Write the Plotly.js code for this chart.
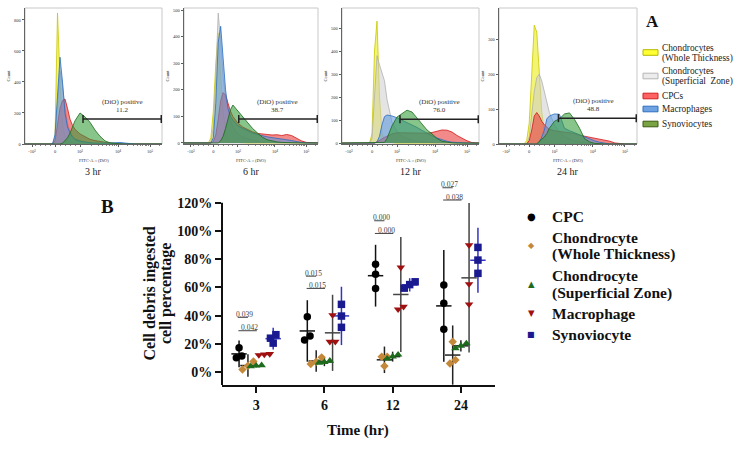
<!DOCTYPE html>
<html><head><meta charset="utf-8">
<script src="https://cdn.plot.ly/plotly-3.0.1.min.js"></script>
<style>html,body{margin:0;padding:0;background:#fff}#chart{width:755px;height:459px}</style>
</head><body><div id="chart"></div>
<script>
// ================= DATA =================
// ---- Panel A: flow cytometry histograms (FITC-A :: DiO) ----
// bin positions on the biexponential display scale (0 = 0, 1 = 10^3, 2.52 = 10^4, 3.8 = 10^5)
const fitcBins = [-1.2,-0.3,-0.2,-0.1,0,0.1,0.2,0.3,0.4,0.5,0.6,0.7,0.8,1.0,1.2,1.4,1.6,1.8,2.0,2.2,2.4,2.6,2.8,3.0,3.2,3.4,3.6,3.8,4.0,4.28];
const fitcTickVals = [-0.92, 0, 1, 2.52, 3.8];
const fitcTickText = ['-10³', '0', '10³', '10⁴', '10⁵'];
const panelTitles = ['3 hr', '6 hr', '12 hr', '24 hr'];
const histNames = ['Chondrocytes<br>(Whole Thickness)', 'Chondrocytes<br>(Superficial  Zone)', 'CPCs', 'Macrophages', 'Synoviocytes'];
const gatePercent = [11.2, 38.7, 76.0, 48.8];
const countTickStep = [200, 100, 100, 100];

// counts per bin, 3 hr
const h3_WT  = [0,0,0,0,40,845,420,120,50,20,10,5,3,1,0,0,0,0,0,0,0,0,0,0,0,0,0,0,0,0];
const h3_SZ  = [0,0,0,0,40,250,470,380,230,130,80,50,35,20,12,8,5,3,2,0,0,0,0,0,0,0,0,0,0,0];
const h3_CPC = [0,0,0,0,20,120,230,280,290,230,160,120,95,65,45,30,22,15,10,6,3,1,0,0,0,0,0,0,0,0];
const h3_Mac = [0,0,0,0,60,300,560,400,200,110,70,45,30,18,12,8,6,5,5,6,8,10,6,2,0,0,0,0,0,0];
const h3_Syn = [0,0,0,0,0,0,0,5,20,40,70,110,150,200,175,140,90,50,20,8,3,1,0,0,0,0,0,0,0,0];
// 6 hr
const h6_WT  = [0,0,0,20,120,300,415,250,120,50,20,10,5,2,0,0,0,0,0,0,0,0,0,0,0,0,0,0,0,0];
const h6_SZ  = [0,0,0,5,60,250,490,380,250,170,120,85,60,35,22,15,10,7,5,3,2,0,0,0,0,0,0,0,0,0];
const h6_CPC = [0,0,0,0,5,30,90,160,190,180,150,120,100,75,60,50,42,36,33,32,30,31,28,32,28,18,8,2,0,0];
const h6_Mac = [0,0,0,0,20,150,380,440,320,200,130,100,85,65,55,45,38,32,27,23,20,18,15,12,9,5,2,0,0,0];
const h6_Syn = [0,0,0,0,0,0,0,8,25,55,90,125,143,120,100,78,55,38,22,12,7,4,2,1,0,0,0,0,0,0];
// 12 hr
const h12_WT  = [0,0,0,0,40,400,530,200,40,15,8,4,2,0,0,0,0,0,0,0,0,0,0,0,0,0,0,0,0,0];
const h12_SZ  = [0,0,0,0,20,200,380,340,300,270,190,140,90,50,30,20,12,8,5,3,2,0,0,0,0,0,0,0,0,0];
const h12_CPC = [0,0,0,0,0,0,5,12,20,25,30,35,40,45,45,45,44,42,42,43,46,52,57,56,48,33,20,10,2,0];
const h12_Mac = [0,0,0,0,0,0,5,30,80,115,122,120,118,110,100,90,80,68,55,42,32,22,14,8,4,2,0,0,0,0];
const h12_Syn = [0,0,0,0,0,0,0,0,0,3,20,50,75,113,130,143,135,110,85,57,40,20,8,3,1,0,0,0,0,0];
// 24 hr
const h24_WT  = [0,0,0,10,60,200,340,320,190,90,30,10,4,1,0,0,0,0,0,0,0,0,0,0,0,0,0,0,0,0];
const h24_SZ  = [0,0,0,0,20,80,150,190,200,180,150,120,90,55,35,22,14,9,6,4,2,1,0,0,0,0,0,0,0,0];
const h24_CPC = [0,0,0,0,10,40,80,90,80,65,55,48,42,38,36,34,32,30,25,22,20,18,15,12,8,3,1,0,0,0];
const h24_Mac = [0,0,0,0,0,0,0,0,5,20,40,72,80,86,85,45,38,32,26,20,14,9,5,2,0,0,0,0,0,0];
const h24_Syn = [0,0,0,0,0,0,0,0,8,14,20,30,45,65,72,86,89,70,45,15,6,2,0,0,0,0,0,0,0,0];

// ---- Panel B: cell debris ingested (%) ----
const timeLabels = ['3', '6', '12', '24'];
const groupNames = ['CPC', 'Chondrocyte<br>(Whole Thickness)', 'Chondrocyte<br>(Superficial Zone)', 'Macrophage', 'Synoviocyte'];
const cpcPct = [[10.1,17.2,11.3],[22.7,39.2,25.5],[76.4,69.3,59.3],[61.7,48.7,30.3]];
const cwtPct = [[7.5,4.5,1.8],[5.7,10.4,7.3],[4.2,10.9,10.9],[21.5,6.1,8.5]];
const cszPct = [[4.5,4.0,4.8],[6.5,8.0,7.0],[12.3,11.0,9.5],[20.3,18.6,16.8]];
const macPct = [[12.5,12.0,12.8],[40.4,21.5,21.5],[74.2,44.5,46.3],[90.0,62.4,48.0]];
const synPct = [[20.5,26.5,24.0],[48.0,39.7,31.7],[64.0,62.0,59.5],[88.4,79.4,70.0]];
const cpcErr = [9.5, 21.8, 21.9, 39.6];
const cwtErr = [8.0, 7.6, 9.4, 21.0];
const cszErr = [1.2, 3.0, 3.5, 4.0];
const macErr = [1.0, 27.0, 40.8, 53.0];
const synErr = [7.7, 20.7, 4.7, 23.0];
const pVsWT = ['0.039', '0.015', '0.000', '0.027'];
const pVsSZ = ['0.042', '0.015', '0.000', '0.038'];

// ================= LAYOUT HELPERS =================
const W = 755, H = 459;
const px = v => v / W;
const py = v => 1 - v / H;

const histSets = [
  [h3_WT, h3_SZ, h3_CPC, h3_Mac, h3_Syn],
  [h6_WT, h6_SZ, h6_CPC, h6_Mac, h6_Syn],
  [h12_WT, h12_SZ, h12_CPC, h12_Mac, h12_Syn],
  [h24_WT, h24_SZ, h24_CPC, h24_Mac, h24_Syn]
];
const histFill = ['rgba(238,238,30,0.62)','rgba(205,205,205,0.55)','rgba(235,60,60,0.6)','rgba(90,150,220,0.58)','rgba(50,155,55,0.58)'];
const histLine = ['#c8c800','#b0b0b0','#d01818','#2a6cc0','#1a6a1a'];
const swFill = ['#ffff33','#ececec','#ff6262','#6ea2e2','#7aa443'];
const swLine = ['#b8b800','#b5b5b5','#d02020','#2f6fc0','#3a5a10'];

const panelX = [[25,162],[184,318],[342,479],[499,637]];
const panelY = [8,144];
const yRanges = [[0,877],[-4,509],[-4,587],[0,389]];
const fitcRange = [-1.2, 4.28];
const gateStart = [1.12, 1.04, 1.12, 1.16];
const gateLevel = [161, 90, 104, 74];
const gateTextX = [2.68, 2.64, 2.68, 2.56];

const minorVals = [];
for (let v = -0.8; v < 0.95; v += 0.2) if (Math.abs(v) > 0.05) minorVals.push(+v.toFixed(2));
for (let k = 2; k <= 9; k++) { minorVals.push(1 + 1.52 * Math.log10(k)); minorVals.push(2.52 + 1.28 * Math.log10(k)); }
minorVals.push(3.8 + 1.28 * Math.log10(2));

const serif = 'Liberation Serif, Times New Roman, serif';
const traces = [];
const layout = {
  width: W, height: H, margin: {l:0, r:0, t:0, b:0},
  paper_bgcolor: '#fff', plot_bgcolor: 'rgba(0,0,0,0)',
  font: {family: serif, color: '#111'},
  shapes: [], annotations: [],
  showlegend: false
};
function note(o) { // annotation with explicit anchors
  layout.annotations.push(Object.assign({showarrow: false, xanchor: 'center', yanchor: 'middle'}, o));
}

// ---- Panel A subplots ----
for (let p = 0; p < 4; p++) {
  const n = p + 1;
  const xa = 'xaxis' + (n === 1 ? '' : n), ya = 'yaxis' + (n === 1 ? '' : n);
  const xr = 'x' + (n === 1 ? '' : n), yr = 'y' + (n === 1 ? '' : n);
  histSets[p].forEach((vals, s) => {
    traces.push({type: 'scatter', mode: 'lines', x: fitcBins, y: vals, xaxis: xr, yaxis: yr,
      fill: 'tozeroy', fillcolor: histFill[s], line: {color: histLine[s], width: 0.8},
      showlegend: false, hoverinfo: 'skip'});
  });
  layout[xa] = {domain: [px(panelX[p][0]), px(panelX[p][1])], anchor: yr, range: fitcRange,
    tickmode: 'array', tickvals: fitcTickVals, ticktext: fitcTickText,
    ticks: 'outside', ticklen: 2.5, tickwidth: 0.8, tickcolor: '#333',
    tickfont: {size: 4.5, family: serif, color: '#333'},
    minor: {tickmode: 'array', tickvals: minorVals, ticks: 'outside', ticklen: 1.5, tickwidth: 0.6, tickcolor: '#333'},
    showline: true, linecolor: '#444', linewidth: 0.8, zeroline: false, showgrid: false, fixedrange: true};
  layout[ya] = {domain: [py(panelY[1]), py(panelY[0])], anchor: xr, range: yRanges[p],
    tickmode: 'linear', tick0: 0, dtick: countTickStep[p],
    ticks: 'outside', ticklen: 2.5, tickwidth: 0.8, tickcolor: '#333',
    tickfont: {size: 4.5, family: serif, color: '#333'},
    title: {text: 'Count', font: {size: 4.5, family: serif, color: '#333'}, standoff: 3},
    showline: true, linecolor: '#444', linewidth: 0.8, zeroline: false, showgrid: false, fixedrange: true};
  layout.shapes.push({type: 'rect', xref: xr + ' domain', yref: yr + ' domain', x0: 0, x1: 1, y0: 0, y1: 1,
    line: {color: '#c8c8c8', width: 1}, layer: 'below'});
  layout.shapes.push({type: 'line', xref: xr, yref: yr, x0: gateStart[p], x1: 4.25, y0: gateLevel[p], y1: gateLevel[p],
    line: {color: '#222', width: 1.5}});
  [gateStart[p], 4.25].forEach(gx => layout.shapes.push({type: 'line', xref: xr, yref: yr, ysizemode: 'pixel',
    yanchor: gateLevel[p], x0: gx, x1: gx, y0: -4, y1: 4, line: {color: '#222', width: 1.5}}));
  note({xref: xr, yref: yr, x: gateTextX[p], y: gateLevel[p], yshift: 17,
    text: '(DiO) positive', font: {size: 7, family: serif, color: '#333'}});
  note({xref: xr, yref: yr, x: gateTextX[p], y: gateLevel[p], yshift: 9.5,
    text: gatePercent[p].toFixed(1), font: {size: 7, family: serif, color: '#333'}});
  note({xref: xr + ' domain', yref: 'paper', x: 0.5, y: py(160),
    text: 'FITC-A :: (DiO)', font: {size: 4.5, family: serif, color: '#333'}});
  note({xref: xr + ' domain', yref: 'paper', x: 0.5, y: py(171),
    text: panelTitles[p], font: {size: 10, family: serif, color: '#222'}});
}

// ---- Panel A legend (swatches + text) ----
const swCenters = [52.5, 76, 96, 109, 124];
const aLineYs = [[47.7, 58.3], [70.7, 81], [95.7], [109], [124]];
histNames.forEach((nm, s) => {
  layout.shapes.push({type: 'rect', xref: 'paper', yref: 'paper', x0: px(643), x1: px(658),
    y0: py(swCenters[s] + 2.8), y1: py(swCenters[s] - 2.8), fillcolor: swFill[s], line: {color: swLine[s], width: 1}});
  nm.split('<br>').forEach((ln, i) => note({xref: 'paper', yref: 'paper', x: px(660), y: py(aLineYs[s][i]),
    xanchor: 'left', text: ln, font: {size: 9.3, family: serif, color: '#222'}}));
});
note({xref: 'paper', yref: 'paper', x: px(652), y: py(22), text: 'A',
  font: {size: 17, family: serif, weight: 'bold', color: '#111'}});

// ---- Panel B ----
const groupData = [cpcPct, cwtPct, cszPct, macPct, synPct];
const groupErr = [cpcErr, cwtErr, cszErr, macErr, synErr];
const groupOffset = [-0.25, -0.12, 0, 0.12, 0.25];
const groupSymbol = ['circle', 'diamond', 'triangle-up', 'triangle-down', 'square'];
const groupGlyph = ['●', '◆', '▲', '▼', '■'];
const groupGlyphSize = [10, 8, 8.5, 8.5, 8];
const groupColor = ['#000000', '#c4883a', '#1d6b1d', '#a01010', '#1a1a90'];
const groupSize = [7.5, 6.5, 7.5, 7.5, 7.5];
const errColor = ['#111', '#222', '#222', '#444', '#3434c4'];

groupData.forEach((reps, g) => {
  const mx = [], my = [];
  reps.forEach((vals, t) => { mx.push(t + groupOffset[g]); my.push(vals.reduce((a, b) => a + b, 0) / vals.length); });
  traces.push({type: 'scatter', mode: 'markers', x: mx, y: my, xaxis: 'x5', yaxis: 'y5', showlegend: false, hoverinfo: 'skip',
    marker: {symbol: 'line-ew', size: 11, color: errColor[g], line: {width: 1.5, color: errColor[g]}},
    error_y: {type: 'data', array: groupErr[g], visible: true, thickness: 1.5, width: 0, color: errColor[g]}});
});
groupData.forEach((reps, g) => {
  const xs = [], ys = [];
  reps.forEach((vals, t) => {
    // spread replicates that would overlap (dot-plot style)
    const order = vals.map((v, i) => i).sort((a, b) => vals[a] - vals[b]);
    const clusters = [];
    order.forEach(i => {
      const last = clusters[clusters.length - 1];
      if (last && Math.abs(vals[i] - vals[last[last.length - 1]]) < 3.5) last.push(i); else clusters.push([i]);
    });
    clusters.forEach(c => c.forEach((i, k) => {
      xs.push(t + groupOffset[g] + (k - (c.length - 1) / 2) * 0.08);
      ys.push(vals[i]);
    }));
  });
  traces.push({type: 'scatter', mode: 'markers', x: xs, y: ys, xaxis: 'x5', yaxis: 'y5', name: groupNames[g], hoverinfo: 'skip',
    showlegend: false, marker: {symbol: groupSymbol[g], size: groupSize[g], color: groupColor[g], line: {width: 0}}});
});

layout.xaxis5 = {domain: [px(222), px(495)], anchor: 'y5', range: [-0.5, 3.5],
  tickmode: 'array', tickvals: [0, 1, 2, 3], ticktext: timeLabels,
  ticks: 'outside', ticklen: 6, tickwidth: 2, tickcolor: '#111',
  tickfont: {size: 14, family: serif, weight: 'bold', color: '#111'},
  showline: true, linecolor: '#111', linewidth: 2, zeroline: false, showgrid: false, fixedrange: true};
layout.yaxis5 = {domain: [py(385), py(180)], anchor: 'x5', range: [-9.2, 136.2],
  tickmode: 'array', tickvals: [0, 20, 40, 60, 80, 100, 120], ticktext: ['0%', '20%', '40%', '60%', '80%', '100%', '120%'],
  ticks: 'outside', ticklen: 6, tickwidth: 2, tickcolor: '#111',
  tickfont: {size: 14, family: serif, weight: 'bold', color: '#111'},
  showline: false, zeroline: false, showgrid: false, fixedrange: true};
layout.shapes.push({type: 'line', xref: 'x5 domain', yref: 'y5', x0: 0, x1: 0, y0: -9.2, y1: 120, line: {color: '#111', width: 2}});

// significance brackets
const brkY1 = [38.8, 68, 107.3, 130.7];
const brkY2 = [29.3, 59.3, 98.3, 122];
timeLabels.forEach((tl, t) => {
  [[brkY1[t], -0.27, -0.12, pVsWT[t]], [brkY2[t], -0.26, 0.01, pVsSZ[t]]].forEach(([yy, a, b, txt]) => {
    layout.shapes.push({type: 'line', xref: 'x5', yref: 'y5', x0: t + a, x1: t + b, y0: yy, y1: yy, line: {color: '#444', width: 1}});
    note({xref: 'x5', yref: 'y5', x: t + (a + b) / 2 + 0.03, y: yy, yanchor: 'bottom', yshift: -2.5,
      borderpad: 0, text: txt, font: {size: 7.5, family: serif, color: '#444'}});
  });
});

// Panel B legend (symbol glyph + text lines)
const bSymY = [216, 245.7, 284, 313, 334];
const bLineYs = [[216], [237.3, 254.3], [275.7, 292.7], [313.3], [334]];
groupNames.forEach((nm, g) => {
  note({xref: 'paper', yref: 'paper', x: px(531), y: py(bSymY[g]), text: groupGlyph[g],
    font: {size: groupGlyphSize[g], family: 'DejaVu Sans', color: groupColor[g]}});
  nm.split('<br>').forEach((ln, i) => note({xref: 'paper', yref: 'paper', x: px(550), y: py(bLineYs[g][i]),
    xanchor: 'left', text: ln, font: {size: 15.5, family: serif, weight: 'bold', color: '#111'}}));
});

// axis titles and panel label
note({xref: 'paper', yref: 'paper', x: px(149), y: py(293.5), textangle: -90,
  text: 'Cell debris ingested', font: {size: 16, family: serif, weight: 'bold', color: '#111'}});
note({xref: 'paper', yref: 'paper', x: px(166), y: py(294), textangle: -90,
  text: 'cell percentage', font: {size: 16, family: serif, weight: 'bold', color: '#111'}});
note({xref: 'paper', yref: 'paper', x: px(358), y: py(430),
  text: 'Time (hr)', font: {size: 15, family: serif, weight: 'bold', color: '#111'}});
note({xref: 'paper', yref: 'paper', x: px(107), y: py(206),
  text: 'B', font: {size: 19, family: serif, weight: 'bold', color: '#111'}});

Plotly.newPlot('chart', traces, layout, {staticPlot: true, displayModeBar: false});
</script>
</body></html>
